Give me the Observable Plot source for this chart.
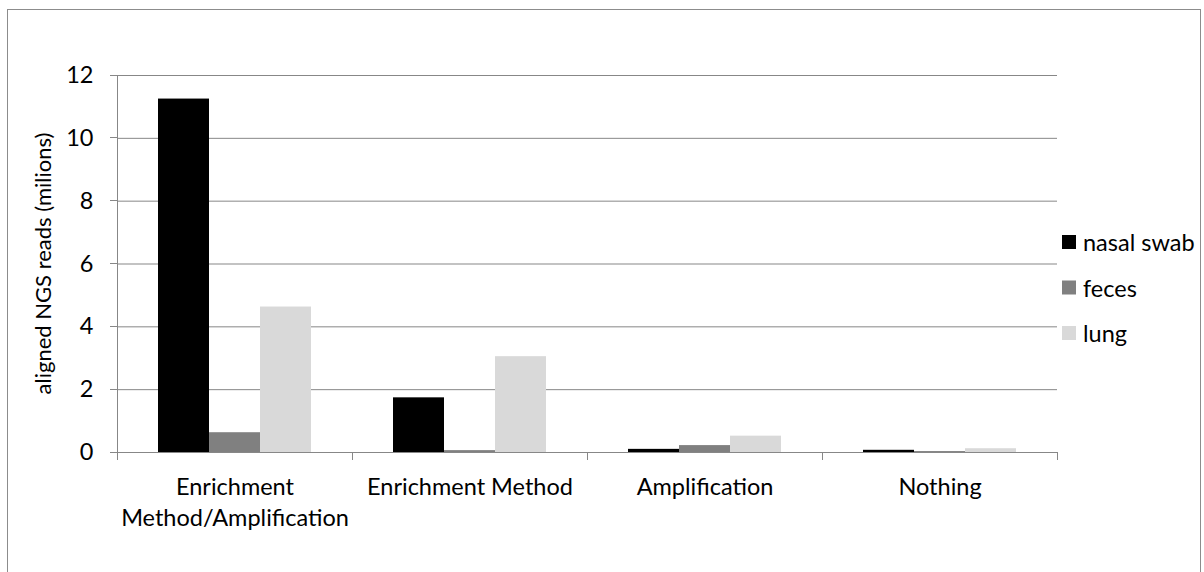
<!DOCTYPE html>
<html>
<head>
<meta charset="utf-8">
<script src="https://cdn.jsdelivr.net/npm/d3@7"></script>
<script src="https://cdn.jsdelivr.net/npm/@observablehq/plot@0.6"></script>
<style>
  html, body { margin: 0; padding: 0; background: #fff; }
  #chart { position: relative; width: 1204px; height: 572px; overflow: hidden; }
</style>
</head>
<body>
<div id="chart"></div>
<script>
const categories = ["Enrichment Method/Amplification", "Enrichment Method", "Amplification", "Nothing"];
const categoryLabels = ["Enrichment\nMethod/Amplification", "Enrichment Method", "Amplification", "Nothing"];
const series = ["nasal swab", "feces", "lung"];
const nasalSwab = [11.25, 1.74, 0.10, 0.07];
const feces = [0.63, 0.06, 0.22, 0.03];
const lung = [4.63, 3.05, 0.52, 0.12];
const seriesColors = ["#000000", "#808080", "#d9d9d9"];
const yTicks = [0, 2, 4, 6, 8, 10, 12];
const yLabel = "aligned NGS reads (milions)";

const FONT = "Lato, 'Open Sans', sans-serif";
const FS = 23.5;
const GRID = "#878787";

const valuesBySeries = [nasalSwab, feces, lung];
const data = [];
categories.forEach((c, i) => series.forEach((s, j) => data.push({category: c, series: s, value: valuesBySeries[j][i]})));

const labelOf = new Map(categories.map((c, i) => [c, categoryLabels[i]]));

const plot = Plot.plot({
  width: 1204,
  height: 572,
  marginLeft: 117,
  marginRight: 147,
  marginTop: 75,
  marginBottom: 120,
  style: {fontFamily: FONT, fontSize: FS + "px", color: "#000", background: "transparent"},
  fx: {domain: categories, padding: 0, axis: null, label: null},
  x: {domain: series, paddingInner: 0, paddingOuter: 0.76, axis: null, label: null},
  y: {domain: [0, 12], axis: null, label: null},
  color: {domain: series, range: seriesColors},
  marks: [
    Plot.gridY(yTicks, {stroke: GRID, strokeOpacity: 1, strokeWidth: 1}),
    Plot.barY(data, {fx: "category", x: "series", y: "value", fill: "series", inset: 0}),
    Plot.ruleY([0], {stroke: GRID, strokeWidth: 1}),
    Plot.axisY(yTicks, {anchor: "left", tickSize: 0, tickPadding: 24, fontSize: FS, fill: "#000", label: null}),
    Plot.axisFx({anchor: "bottom", tickSize: 0, tickPadding: 21, fontSize: FS, fill: "#000", lineHeight: 1.3, label: null,
      tickFormat: d => labelOf.get(d)})
  ]
});

document.getElementById("chart").appendChild(plot);

// decorations derived from the plot's scales
const svg = d3.select(plot);
const y = plot.scale("y");
const fx = plot.scale("fx");
const y0 = y.apply(0), yTop = y.apply(12);
const left = fx.apply(categories[0]);
const right = fx.apply(categories[categories.length - 1]) + fx.bandwidth;
const bounds = categories.map(c => fx.apply(c)).concat([right]);

const deco = svg.append("g").attr("stroke", GRID).attr("stroke-width", 1).attr("shape-rendering", "crispEdges");
deco.append("line").attr("x1", left).attr("x2", left).attr("y1", yTop).attr("y2", y0 + 8);
yTicks.forEach(t => deco.append("line").attr("x1", left - 7).attr("x2", left).attr("y1", y.apply(t)).attr("y2", y.apply(t)));
bounds.forEach(b => deco.append("line").attr("x1", b).attr("x2", b).attr("y1", y0).attr("y2", y0 + 8));

// outer chart border
svg.append("rect").attr("x", 7.5).attr("y", 9.5).attr("width", 1193).attr("height", 600)
  .attr("fill", "none").attr("stroke", "#8c8c8c").attr("stroke-width", 1);

// y axis title
svg.append("text")
  .attr("transform", `translate(42,${(y0 + yTop) / 2}) rotate(-90)`)
  .attr("text-anchor", "middle").attr("dominant-baseline", "central")
  .attr("font-family", FONT).attr("font-size", 22).attr("fill", "#000")
  .text(yLabel);

// legend
const lg = svg.append("g").attr("font-family", FONT).attr("font-size", FS).attr("fill", "#000").attr("text-anchor", "start");
const legendX = right + 5;
series.forEach((s, i) => {
  const cy = 242 + i * 45.5;
  lg.append("rect").attr("x", legendX).attr("y", cy - 7).attr("width", 14).attr("height", 14).attr("fill", plot.scale("color").apply(s));
  lg.append("text").attr("x", legendX + 21).attr("y", cy).attr("dominant-baseline", "central").attr("text-anchor", "start").text(s);
});
</script>
</body>
</html>
